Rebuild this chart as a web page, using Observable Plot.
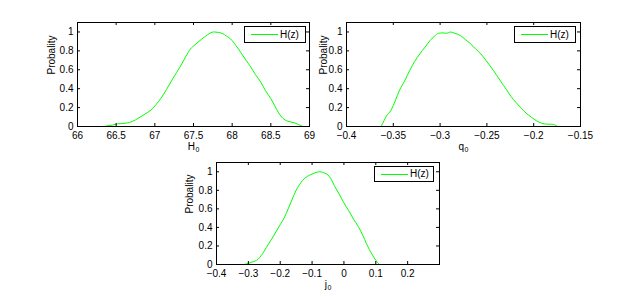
<!DOCTYPE html>
<html>
<head>
<meta charset="utf-8">
<script src="https://cdn.jsdelivr.net/npm/d3@7"></script>
<script src="https://cdn.jsdelivr.net/npm/@observablehq/plot@0.6"></script>
<style>
  html, body { margin: 0; padding: 0; background: #fff; }
  #chart { position: relative; width: 632px; height: 297px; background: #fff; overflow: hidden; }
  #chart svg { position: absolute; }
</style>
</head>
<body>
<div id="chart"></div>
<script>
// ---- data ----
const yTicks = [0, 0.2, 0.4, 0.6, 0.8, 1];

const h0Ticks = [66, 66.5, 67, 67.5, 68, 68.5, 69];
const h0X = [66.34, 66.45, 66.52, 66.6, 66.67, 66.75, 66.82, 66.9, 66.95, 67.02, 67.08, 67.15, 67.21, 67.28, 67.34, 67.4, 67.46, 67.52, 67.6, 67.68, 67.76, 67.82, 67.87, 67.93, 67.98, 68.05, 68.11, 68.18, 68.24, 68.3, 68.37, 68.43, 68.5, 68.55, 68.6, 68.64, 68.67, 68.72, 68.8, 68.86, 68.9];
const h0P = [0, 0.015, 0.028, 0.033, 0.042, 0.07, 0.105, 0.145, 0.175, 0.235, 0.3, 0.39, 0.475, 0.57, 0.65, 0.74, 0.82, 0.865, 0.92, 0.97, 1.0, 0.995, 0.985, 0.955, 0.925, 0.855, 0.785, 0.7, 0.63, 0.55, 0.47, 0.38, 0.295, 0.22, 0.145, 0.1, 0.077, 0.055, 0.04, 0.02, 0.005];

const q0Ticks = [-0.4, -0.35, -0.3, -0.25, -0.2, -0.15];
const q0X = [-0.363, -0.36, -0.3577, -0.3523, -0.348, -0.3433, -0.338, -0.3324, -0.327, -0.3216, -0.316, -0.3108, -0.306, -0.3017, -0.297, -0.2927, -0.2891, -0.284, -0.2783, -0.273, -0.2674, -0.262, -0.2566, -0.251, -0.2457, -0.24, -0.2349, -0.229, -0.2241, -0.219, -0.2132, -0.208, -0.2024, -0.197, -0.1915, -0.186, -0.1807, -0.177, -0.1742];
const q0P = [0, 0.06, 0.105, 0.175, 0.27, 0.385, 0.48, 0.594, 0.69, 0.769, 0.84, 0.909, 0.955, 0.986, 0.99, 0.986, 1.0, 0.985, 0.962, 0.92, 0.874, 0.82, 0.769, 0.7, 0.629, 0.55, 0.472, 0.39, 0.315, 0.255, 0.192, 0.14, 0.098, 0.06, 0.035, 0.025, 0.024, 0.015, 0];

const j0Ticks = [-0.4, -0.3, -0.2, -0.1, 0, 0.1, 0.2];
const j0X = [-0.313, -0.3, -0.29, -0.28, -0.27, -0.26, -0.25, -0.237, -0.225, -0.212, -0.2, -0.188, -0.175, -0.163, -0.15, -0.14, -0.13, -0.115, -0.1, -0.085, -0.075, -0.06, -0.05, -0.04, -0.03, -0.015, 0, 0.015, 0.03, 0.045, 0.06, 0.07, 0.08, 0.09, 0.1, 0.106, 0.112];
const j0P = [0, 0.012, 0.025, 0.035, 0.055, 0.095, 0.145, 0.22, 0.285, 0.36, 0.43, 0.5, 0.6, 0.7, 0.8, 0.86, 0.905, 0.95, 0.975, 0.995, 1.0, 0.985, 0.965, 0.92, 0.85, 0.76, 0.665, 0.58, 0.49, 0.41, 0.31, 0.23, 0.16, 0.1, 0.045, 0.02, 0];

const yLabel = "Probality";
const legendLabel = "H(z)";

// ---- styling ----
const FONT = '"Liberation Sans", Arial, Helvetica, sans-serif';
const GREEN = "#00ff00";
const TICK = 3;
const fmt = d => (d < 0 ? "\u2212" : "") + String(Math.round(Math.abs(d) * 1000) / 1000);

const chart = document.getElementById("chart");

function panel(o) {
  const ih = o.height - o.mt - o.mb, iw = o.width - o.ml - o.mr;
  const data = o.xs.map((x, i) => ({x, y: o.ys[i]}));
  const svg = Plot.plot({
    width: o.width, height: o.height,
    marginTop: o.mt, marginRight: o.mr, marginBottom: o.mb, marginLeft: o.ml,
    style: {background: "transparent", overflow: "visible", fontFamily: FONT, fontSize: "10px", color: "#000"},
    x: {domain: o.xDomain, axis: null},
    y: {domain: [0, 1.1], axis: null},
    marks: [
      Plot.line(data, {x: "x", y: "y", stroke: GREEN, strokeWidth: 1, curve: "monotone-x"}),
      Plot.frame({stroke: "#000"}),
      Plot.tickX(o.xTicks, {x: d => d, insetTop: ih - TICK, stroke: "#000"}),
      Plot.tickX(o.xTicks, {x: d => d, insetBottom: ih - TICK, stroke: "#000"}),
      Plot.tickY(yTicks, {y: d => d, insetRight: iw - TICK, stroke: "#000"}),
      Plot.tickY(yTicks, {y: d => d, insetLeft: iw - TICK, stroke: "#000"}),
      Plot.axisX(o.xTicks, {tickSize: 0, tickPadding: 5, tickFormat: fmt, label: null, fontSize: 10}),
      Plot.axisY(yTicks, {tickSize: 0, tickPadding: 4, tickFormat: fmt, label: null, fontSize: 10}),
      Plot.text([o.letter], {text: d => d, frameAnchor: "bottom", lineAnchor: "middle", dy: 20, dx: -2.2, fontSize: 10, fill: "#000"}),
      Plot.text(["0"], {text: d => d, frameAnchor: "bottom", lineAnchor: "middle", dy: 23.5, dx: o.subDx, fontSize: 7, fill: "#000"}),
      Plot.text([yLabel], {text: d => d, frameAnchor: "left", lineAnchor: "middle", rotate: -90, dx: o.ylabDx, fontSize: 10, fill: "#000"})
    ]
  });
  svg.style.left = o.left + "px";
  svg.style.top = o.top + "px";
  chart.appendChild(svg);
}

function legend(left, top, w, h) {
  const d = document.createElement("div");
  d.style.cssText = `position:absolute;left:${left}px;top:${top}px;width:${w - 2}px;height:${h - 2}px;border:1px solid #000;background:#fff;font:10px ${FONT};color:#000;`;
  const ln = document.createElement("div");
  ln.style.cssText = `position:absolute;left:6px;top:${Math.floor((h - 2) / 2)}px;width:27px;height:1px;background:${GREEN};`;
  const tx = document.createElement("div");
  tx.style.cssText = `position:absolute;left:35px;top:0;line-height:${h - 2}px;white-space:nowrap;`;
  tx.textContent = legendLabel;
  d.appendChild(ln); d.appendChild(tx);
  chart.appendChild(d);
}

// top-left: H0  (frame x 77-309, y 22-126)
panel({xs: h0X, ys: h0P, xDomain: [66, 69], xTicks: h0Ticks, letter: "H", subDx: 3.85, ylabDx: -26,
  left: 0, top: 0, width: 316, height: 160, mt: 22, mr: 7, mb: 34, ml: 77});
// top-right: q0 (frame x 346-580, y 22-126)
panel({xs: q0X, ys: q0P, xDomain: [-0.4, -0.15], xTicks: q0Ticks, letter: "q", subDx: 3.05, ylabDx: -23,
  left: 300, top: 0, width: 332, height: 160, mt: 22, mr: 52, mb: 34, ml: 46});
// bottom: j0 (frame x 216-439, y 162-264)
panel({xs: j0X, ys: j0P, xDomain: [-0.4, 0.3], xTicks: j0Ticks, letter: "j", subDx: 1.5, ylabDx: -27,
  left: 160, top: 140, width: 300, height: 157, mt: 22, mr: 21, mb: 33, ml: 56});

legend(244, 26, 62, 17);
legend(514, 26, 62, 17);
legend(374, 166, 60, 16);
</script>
</body>
</html>
